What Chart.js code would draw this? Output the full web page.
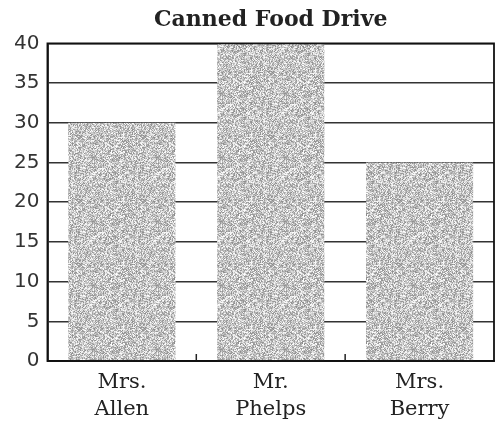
<!DOCTYPE html>
<html><head><meta charset="utf-8">
<script src="https://cdn.jsdelivr.net/npm/chart.js@4.4.0/dist/chart.umd.min.js"></script>
<style>html,body{margin:0;padding:0;background:#fff}#wrap{width:498px;height:425px}</style>
</head><body><div id="wrap"><canvas id="c" width="498" height="425"></canvas></div>
<script>
const categories = [["Mrs.","Allen"],["Mr.","Phelps"],["Mrs.","Berry"]];
const cansCollected = [30, 40, 25];
const yTicks = [0,5,10,15,20,25,30,35,40];

function stipple(){
  const s = 64, cv = document.createElement('canvas');
  cv.width = s; cv.height = s;
  const g = cv.getContext('2d');
  const img = g.createImageData(s, s);
  for (let y = 0; y < s; y++) for (let x = 0; x < s; x++) {
    let h = (x * 374761393 + y * 668265263) | 0;
    h = (h ^ (h >>> 13)) * 1274126177 | 0;
    h = (h ^ (h >>> 16)) & 255;
    const v = 140 + Math.round(h * 0.45);
    const i = (y * s + x) * 4;
    img.data[i] = img.data[i+1] = img.data[i+2] = v; img.data[i+3] = 255;
  }
  g.putImageData(img, 0, 0);
  return g.createPattern(cv, 'repeat');
}

const boundaryTicks = {
  id: 'boundaryTicks',
  afterDatasetsDraw(chart){
    const x = chart.scales.x, y = chart.scales.y, ctx = chart.ctx;
    ctx.save(); ctx.strokeStyle = '#222'; ctx.lineWidth = 1.5;
    for (let i = 0; i < categories.length - 1; i++) {
      const px = (x.getPixelForValue(i) + x.getPixelForValue(i + 1)) / 2;
      ctx.beginPath(); ctx.moveTo(px, y.bottom); ctx.lineTo(px, y.bottom - 7); ctx.stroke();
    }
    const a = chart.chartArea;
    ctx.strokeStyle = '#111'; ctx.lineWidth = 1.8;
    ctx.strokeRect(a.left, a.top, a.right - a.left, a.bottom - a.top);
    ctx.restore();
  }
};

new Chart(document.getElementById('c'), {
  type: 'bar',
  data: { labels: categories, datasets: [{ data: cansCollected, backgroundColor: stipple(), borderWidth: 0 }] },
  options: {
    responsive: false, animation: false, devicePixelRatio: 1,
    layout: { padding: { left: 6, right: 4, top: 4, bottom: 3 } },
    plugins: {
      legend: { display: false }, tooltip: { enabled: false },
      title: { display: true, text: 'Canned Food Drive', fullSize: false, color: '#222',
        font: { family: 'DejaVu Serif', size: 22, weight: 'bold', lineHeight: 1.2 }, padding: { top: 3, bottom: 10 } }
    },
    scales: {
      x: {
        categoryPercentage: 1.0, barPercentage: 0.71,
        grid: { display: false },
        border: { display: true, color: '#111', width: 1.8 },
        afterFit(s){ s.height = 61; },
        ticks: { color: '#222', font: { family: 'DejaVu Serif', size: 21, lineHeight: 1.3 }, padding: 0, maxRotation: 0 }
      },
      y: {
        min: 0, max: 40,
        afterBuildTicks(s){ s.ticks = yTicks.map(v => ({ value: v })); },
        grid: { color: '#333', lineWidth: 1.5, drawTicks: false },
        border: { display: true, color: '#111', width: 1.8 },
        ticks: { color: '#333', padding: 8, font: { family: 'DejaVu Sans', size: 20, weight: 'normal' } }
      }
    }
  },
  plugins: [boundaryTicks]
});
</script></body></html>
